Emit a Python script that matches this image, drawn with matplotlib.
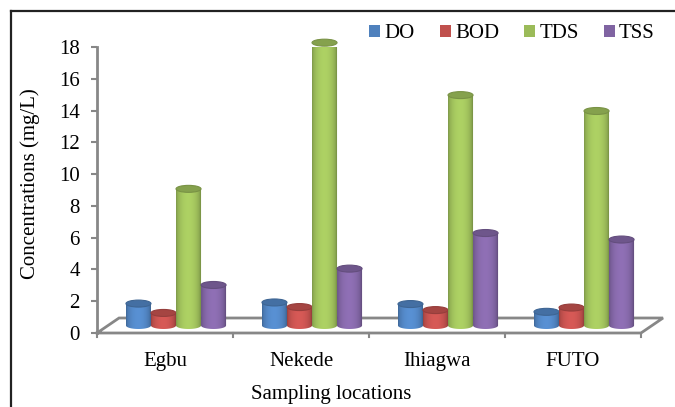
import numpy as np
import matplotlib.pyplot as plt
from matplotlib.patches import Ellipse, PathPatch, Patch
from matplotlib.path import Path
from matplotlib.lines import Line2D
from matplotlib.colors import to_rgb

plt.rcParams['font.family'] = ['Liberation Serif', 'DejaVu Serif']

# data (mg/L)
locations = ['Egbu', 'Nekede', 'Ihiagwa', 'FUTO']
params = ['DO', 'BOD', 'TDS', 'TSS']
DO = [1.38, 1.45, 1.35, 0.86]
BOD = [0.79, 1.16, 0.97, 1.13]
TDS = [8.6, 17.8, 14.5, 13.5]
TSS = [2.55, 3.58, 5.82, 5.41]
colors = ['#4F81BD', '#C0504D', '#9BBB59', '#8064A2']
yticks = list(range(0, 19, 2))

# fake 3D: floor depth offset in data units
depth_x = 0.162
depth_y = 0.944
bar_w = 0.184
ell_h = 0.44
axis_grey = '#878787'

fig = plt.figure(figsize=(6.75, 4.07), dpi=100)
ax = fig.add_axes([97 / 675, 74 / 407, 544 / 675, 286 / 407])
ax.set_xlim(-0.5, 3.5)
ax.set_ylim(0, 18)
for s in ax.spines.values():
    s.set_visible(False)

# floor
n = len(locations)
fx = [-0.5, n - 0.5, n - 0.5 + depth_x, -0.5 + depth_x, -0.5]
fy = [0, 0, depth_y, depth_y, 0]
ax.plot(fx, fy, color=axis_grey, lw=2, clip_on=False, zorder=1, solid_joinstyle='miter')
ax.plot([-0.5, -0.5], [0, 18], color=axis_grey, lw=2, clip_on=False, zorder=1)
for b in np.arange(-0.5, n, 1.0):
    ax.plot([b, b], [0, -0.25], color=axis_grey, lw=1.5, clip_on=False, zorder=1)


def shade(c, f):
    r = np.array(to_rgb(c)) * f
    return np.clip(r, 0, 1)


t = np.linspace(0, 1, 64)
prof = 0.78 + 0.34 * np.sin(np.pi * np.clip(t * 1.06, 0, 1)) ** 0.5

series = [DO, BOD, TDS, TSS]
base = depth_y / 2
z = 2
for i in range(n):
    for j, vals in enumerate(series):
        xc = i + depth_x / 2 + (j - 1.5) * bar_w
        x0, x1 = xc - bar_w / 2, xc + bar_w / 2
        top = base + vals[i]
        # cylinder outline: rectangle + rounded bottom
        th = np.linspace(np.pi, 2 * np.pi, 30)
        bx = xc + bar_w / 2 * np.cos(th)
        by = base + ell_h / 2 * np.sin(th)
        verts = [(x0, top)] + list(zip(bx, by)) + [(x1, top), (x0, top)]
        path = Path(verts)
        cyl = PathPatch(path, facecolor='none', edgecolor='none', clip_on=False, zorder=z)
        ax.add_patch(cyl)
        grad = np.array([shade(colors[j], f) for f in prof])[None, :, :]
        ax.imshow(grad, extent=(x0, x1, base - ell_h / 2, top), aspect='auto',
                  interpolation='bilinear', clip_path=cyl, zorder=z)
        ax.add_patch(Ellipse((xc, top), bar_w, ell_h, facecolor=shade(colors[j], 0.86),
                             edgecolor=shade(colors[j], 0.78), lw=0.8, clip_on=False,
                             zorder=z + 0.5))
        z += 1

ax.set_xlim(-0.5, 3.5)
ax.set_ylim(0, 18)
ax.set_yticks(yticks)
ax.set_yticklabels([str(v) for v in yticks], fontsize=15)
ax.tick_params(axis='y', length=4.5, width=1.5, color=axis_grey, pad=8)
ax.set_xticks(range(n))
ax.set_xticklabels(locations, fontsize=15)
ax.tick_params(axis='x', length=0, pad=14)

fig.text(30 / 675, 1 - 184 / 407, 'Concentrations (mg/L)', rotation=90,
         ha='center', va='center', fontsize=15)
fig.text(331 / 675, 1 - 395 / 407, 'Sampling locations', ha='center', va='center', fontsize=15)

handles = [Patch(facecolor=c, edgecolor='none') for c in colors]
fig.legend(handles, params, loc='center', bbox_to_anchor=(512 / 675, 1 - 34 / 407),
           ncol=4, frameon=False, fontsize=15, handlelength=0.53, handleheight=0.53,
           handletextpad=0.2, columnspacing=1.2, borderpad=0, borderaxespad=0)

# chart frame (left and top visible)
fig.add_artist(Line2D([11 / 675, 11 / 675], [0, 1 - 10.5 / 407], color='#222222', lw=1.6))
fig.add_artist(Line2D([11 / 675, 1], [1 - 10.5 / 407, 1 - 10.5 / 407], color='#222222', lw=1.6))

fig.savefig('out.png', dpi=100)
